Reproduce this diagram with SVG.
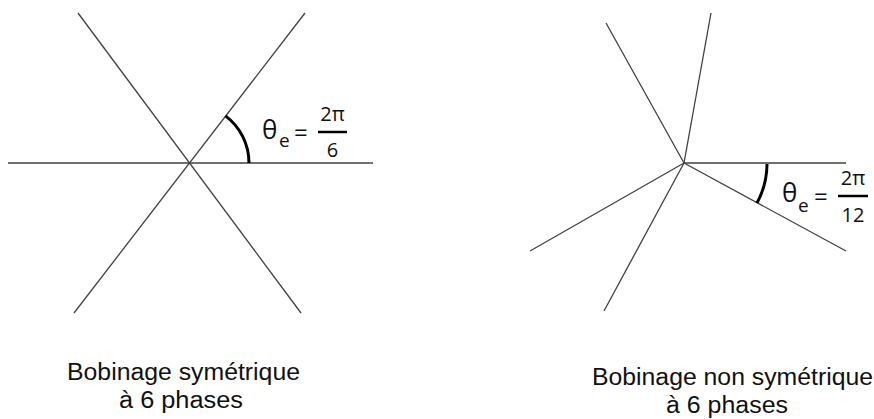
<svg xmlns="http://www.w3.org/2000/svg" width="874" height="419" viewBox="0 0 874 419">
<style>
.ln{stroke:#404040;stroke-width:1.3;fill:none}
.arc{stroke:#000;stroke-width:3;fill:none}
.bar{stroke:#000;stroke-width:2.5}
text{font-family:"Open Sans","Liberation Sans",Arial,sans-serif;fill:#111}
.cap{font-family:"Liberation Sans",Arial,sans-serif;font-size:23.5px}
.th{font-size:26px}
.sub{font-size:19px}
.eq{font-size:24px}
.num{font-size:20px;text-anchor:middle}
</style>
<rect width="874" height="419" fill="#fff"/>
<g id="connectors">
<g id="sym-lines">
<line class="ln" x1="8" y1="163" x2="373" y2="163"/>
<line class="ln" x1="78" y1="13" x2="301" y2="313"/>
<line class="ln" x1="305" y1="13" x2="74" y2="313"/>
</g>
<g id="nonsym-lines">
<line class="ln" x1="684" y1="163" x2="846" y2="163"/>
<line class="ln" x1="684" y1="163" x2="606" y2="23"/>
<line class="ln" x1="684" y1="163" x2="711" y2="13"/>
<line class="ln" x1="684" y1="163" x2="530" y2="251"/>
<line class="ln" x1="684" y1="163" x2="604" y2="311"/>
<line class="ln" x1="684" y1="163" x2="846" y2="251"/>
</g>
</g>
<g id="angle-sym">
<path class="arc" d="M225.5,115.9 A59,59 0 0 1 249,163"/>
<text class="th" x="262" y="139">θ</text>
<text class="sub" x="279" y="147">e</text>
<text class="eq" x="294" y="141">=</text>
<line class="bar" x1="318" y1="132" x2="347" y2="132"/>
<text class="num" x="332.5" y="121">2π</text>
<text class="num" x="332.5" y="157">6</text>
</g>
<g id="angle-nonsym">
<path class="arc" d="M767,164 A83,83 0 0 1 757,203"/>
<text class="th" x="782" y="202">θ</text>
<text class="sub" x="798" y="212">e</text>
<text class="eq" x="814" y="205">=</text>
<line class="bar" x1="838" y1="196" x2="868" y2="196"/>
<text class="num" x="853" y="185">2π</text>
<text class="num" x="853" y="222">12</text>
</g>
<g id="label-sym">
<text class="cap" x="67" y="380" textLength="233" lengthAdjust="spacingAndGlyphs">Bobinage symétrique</text>
<text class="cap" x="119" y="408" textLength="124" lengthAdjust="spacingAndGlyphs">à 6 phases</text>
</g>
<g id="label-nonsym">
<text class="cap" x="592" y="385" textLength="281" lengthAdjust="spacingAndGlyphs">Bobinage non symétrique</text>
<text class="cap" x="666" y="413" textLength="122" lengthAdjust="spacingAndGlyphs">à 6 phases</text>
</g>
</svg>
